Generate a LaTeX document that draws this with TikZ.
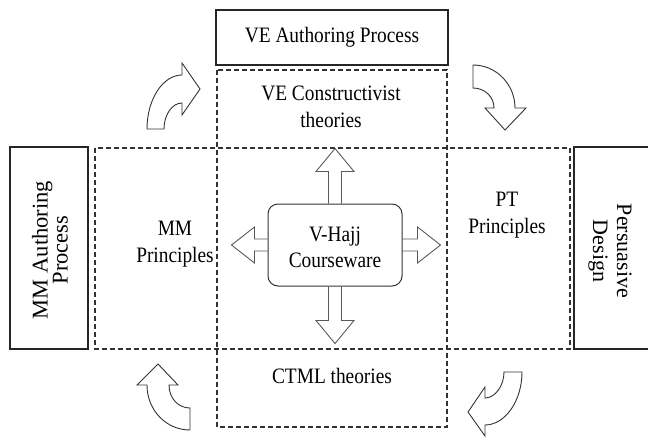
\documentclass[tikz,border=0pt]{standalone}
\usepackage{fontspec}
\setmainfont{Liberation Serif}[FakeStretch=0.88]
\newfontfamily\rotfont{Liberation Serif}
\begin{document}
\begin{tikzpicture}[x=1pt,y=-1pt,
  solidbox/.style={draw=black!85,line width=1.2pt},
  dashbox/.style={draw=black!80,line width=1.05pt,dash pattern=on 5pt off 3pt},
  txt/.style={align=center,font=\fontsize{22}{27.5}\selectfont,inner sep=0pt},
  blk/.style={draw=black!65,line width=0.9pt,line join=miter},
  curvy/.style={draw=black!80,line width=0.9pt,fill=white,line join=miter}]
\useasboundingbox (0,0) rectangle (648,437);
% dashed cross
\draw[dashbox] (217,70) rectangle (447,427);
\draw[dashbox] (95,148) rectangle (570,349);
% solid boxes
\node[solidbox,minimum width=232pt,minimum height=55pt,inner sep=0pt] (ve) at (332,37.5) {};
\node[txt] at (ve.center) {VE Authoring Process};
\node[solidbox,minimum width=78pt,minimum height=202pt,inner sep=0pt] (mm) at (49,248) {};
\node[solidbox,minimum width=80pt,minimum height=202pt,inner sep=0pt] (pd) at (614,248) {};
\node[rotate=90,align=center,inner sep=0pt,font=\rotfont\fontsize{22.5}{20}\selectfont] (mmt) at (50,250) {MM Authoring\\Process};
\node[rotate=-90,align=center,inner sep=0pt,font=\rotfont\fontsize{22}{24}\selectfont] (pdt) at (610,251) {Persuasive\\Design};
% region labels
\node[txt] (vec) at (331,107) {VE Constructivist\\theories};
\node[txt] (mmp) at (175,244) {MM\\Principles};
\node[txt] (ptp) at (507,215) {PT\\Principles};
\node[txt] (ctml) at (332,376) {CTML theories};
% centre box
\node[draw=black!80,line width=1pt,rounded corners=10pt,minimum width=134pt,minimum height=82pt,inner sep=0pt] (vh) at (335,245) {};
\node[txt,font=\fontsize{22}{26}\selectfont] (vht) at (335,247) {V-Hajj\\Courseware};
% block arrows from centre box
\draw[blk,shift={(vh.north)}] (-6.5,0) -- (-6.5,-32) -- (-19,-32) -- (0,-55) -- (19,-32) -- (6.5,-32) -- (6.5,0);
\draw[blk,shift={(vh.south)}] (-6.5,0) -- (-6.5,34) -- (-19,34) -- (0,57) -- (19,34) -- (6.5,34) -- (6.5,0);
\draw[blk,shift={(vh.west)}] (0,-6) -- (-13,-6) -- (-13,-18) -- (-36,0) -- (-13,18) -- (-13,6) -- (0,6);
\draw[blk,shift={(vh.east)}] (0,-6) -- (15,-6) -- (15,-18) -- (38,0) -- (15,18) -- (15,6) -- (0,6);
% curved arrows
\draw[curvy] (147,129) -- (164,129) .. controls (164,115) and (172,103) .. (182,103) -- (182,115) -- (200,89) -- (182,63) -- (182,75) .. controls (163,75) and (147,99) .. (147,129) -- cycle;
\draw[curvy] (473,65) .. controls (496,65) and (515,84) .. (515,108) -- (526,108) -- (505,130) -- (485,108) -- (494,108) .. controls (494,97) and (485,88) .. (473,88) -- cycle;
\draw[curvy] (190,430) .. controls (166,430) and (147,410) .. (147,385) -- (137,385) -- (158,364) -- (178,385) -- (169,385) .. controls (169,398) and (178,408) .. (190,408) -- cycle;
\draw[curvy] (522,372) .. controls (522,401) and (505,425) .. (485,425) -- (485,436) -- (468,412) -- (485,387) -- (485,398) .. controls (495,398) and (504,386) .. (504,372) -- cycle;
\end{tikzpicture}
\end{document}
